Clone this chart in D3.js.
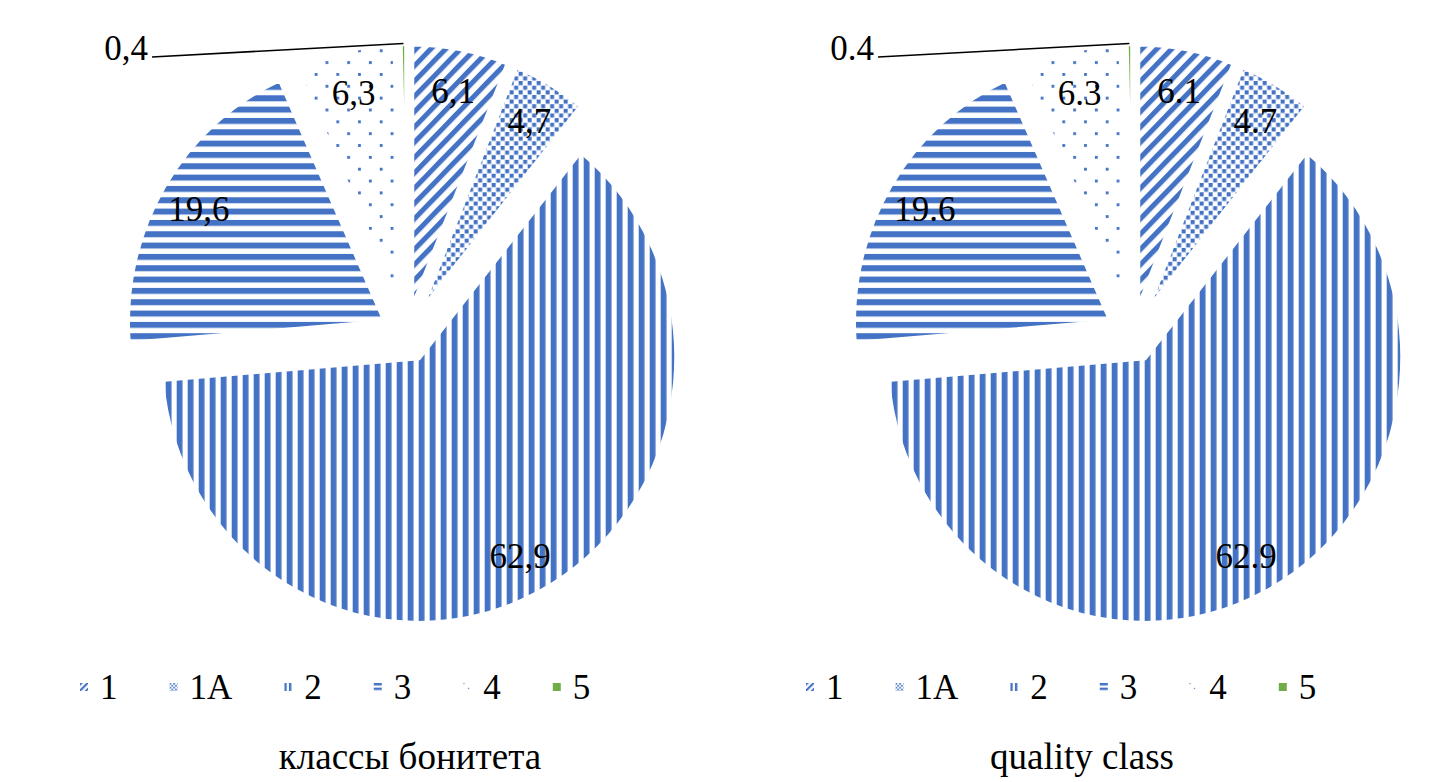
<!DOCTYPE html>
<html>
<head>
<meta charset="utf-8">
<script src="https://cdnjs.cloudflare.com/ajax/libs/d3/7.8.5/d3.min.js"></script>
<style>
  body { margin: 0; background: #fff; }
  text { font-family: "Liberation Serif", "Times New Roman", serif; fill: #000; }
</style>
</head>
<body>
<svg id="chart" width="1435" height="782"></svg>
<script>
// values
var categories = ["1", "1A", "2", "3", "4", "5"];
var shares = [6.1, 4.7, 62.9, 19.6, 6.3, 0.4];
var labelsRu = ["6,1", "4,7", "62,9", "19,6", "6,3", "0,4"];
var labelsEn = ["6.1", "4.7", "62.9", "19.6", "6.3", "0.4"];
var titles = ["классы бонитета", "quality class"];

var blue = "#4472C4", green = "#70AD47";
var radius = 258, explode = 25, yStretch = 1.03;
var pieCenters = [407, 1133], pieY = 335;
var titleX = [410, 1082], titleY = 756;
var legendX = [80, 806], legendY = 687;

var svg = d3.select("#chart");
svg.append("rect").attr("width", 1435).attr("height", 782).attr("fill", "#fff");
var defs = svg.append("defs");

// pattern fills, k = scale (legend swatches use smaller tiles)
function addPatterns(suffix, k) {
  var p;
  p = defs.append("pattern").attr("id", "pat0" + suffix)
      .attr("patternUnits", "userSpaceOnUse").attr("width", 10.5).attr("height", 10.5)
      .attr("patternTransform", "rotate(45) scale(" + k + ")");
  p.append("rect").attr("width", 5).attr("height", 10.5).attr("fill", blue);

  p = defs.append("pattern").attr("id", "pat1" + suffix)
      .attr("patternUnits", "userSpaceOnUse").attr("width", 9).attr("height", 9)
      .attr("patternTransform", "scale(" + k + ")");
  p.append("rect").attr("width", 4).attr("height", 4).attr("fill", blue);
  p.append("rect").attr("x", 4.5).attr("y", 4.5).attr("width", 4).attr("height", 4).attr("fill", blue);

  p = defs.append("pattern").attr("id", "pat2" + suffix)
      .attr("patternUnits", "userSpaceOnUse").attr("width", 11).attr("height", 11)
      .attr("patternTransform", "scale(" + k + ")");
  p.append("rect").attr("width", 5.8).attr("height", 11).attr("fill", blue);

  p = defs.append("pattern").attr("id", "pat3" + suffix)
      .attr("patternUnits", "userSpaceOnUse").attr("width", 11).attr("height", 11)
      .attr("patternTransform", "scale(" + k + ")");
  p.append("rect").attr("width", 11).attr("height", 5.8).attr("fill", blue);

  p = defs.append("pattern").attr("id", "pat4" + suffix)
      .attr("patternUnits", "userSpaceOnUse").attr("width", 21.7).attr("height", 23)
      .attr("patternTransform", "scale(" + k + ")");
  p.append("rect").attr("width", 2.8).attr("height", 2.8).attr("fill", blue);
  p.append("rect").attr("x", 10.85).attr("y", 11.5).attr("width", 2.8).attr("height", 2.8).attr("fill", blue);

  p = defs.append("pattern").attr("id", "pat5" + suffix)
      .attr("patternUnits", "userSpaceOnUse").attr("width", 10).attr("height", 10);
  p.append("rect").attr("width", 10).attr("height", 10).attr("fill", green);
}
addPatterns("", 1);
addPatterns("L", 0.42);

var pie = d3.pie().sort(null).value(d => d);
var arc = d3.arc().innerRadius(0).outerRadius(radius);
var arcs = pie(shares);

function drawPie(idx, labels) {
  var g = svg.append("g")
      .attr("transform", `translate(${pieCenters[idx]},${pieY}) scale(1,${yStretch})`);

  arcs.forEach(function(a, i) {
    var mid = (a.startAngle + a.endAngle) / 2;
    var ox = Math.sin(mid) * explode, oy = -Math.cos(mid) * explode;
    var s = g.append("g").attr("transform", `translate(${ox},${oy})`);
    s.append("path")
        .attr("d", arc(a))
        .attr("fill", `url(#pat${i})`)
        .attr("stroke", "#fff")
        .attr("stroke-width", 5);

    if (a.data >= 1) {
      var lr = radius * 0.84;
      g.append("text")
          .attr("x", ox + Math.sin(mid) * lr)
          .attr("y", oy - Math.cos(mid) * lr)
          .attr("dy", "0.35em")
          .attr("text-anchor", "middle")
          .style("font-size", "35px")
          .text(labels[i]);
    } else {
      // tiny slice: label outside with a leader line
      var ex = ox + Math.sin(mid) * radius, ey = oy - Math.cos(mid) * radius;
      g.append("line")
          .attr("x1", -radius + 3).attr("y1", -radius - 12)
          .attr("x2", ex).attr("y2", ey)
          .attr("stroke", "#000").attr("stroke-width", 1.5);
      g.append("text")
          .attr("x", -radius - 1)
          .attr("y", -radius - 21)
          .attr("dy", "0.35em")
          .attr("text-anchor", "end")
          .style("font-size", "35px")
          .text(labels[i]);
    }
  });

  // legend
  var lg = svg.append("g");
  var x = legendX[idx];
  categories.forEach(function(c, i) {
    var sw = lg.append("g").attr("transform", `translate(${x},${legendY - 4})`);
    sw.append("rect").attr("width", 8).attr("height", 8).attr("fill", `url(#pat${i}L)`);
    var t = lg.append("text")
        .attr("x", x + 20)
        .attr("y", legendY)
        .attr("dy", "0.35em")
        .style("font-size", "35px")
        .text(c);
    x = x + 20 + t.node().getComputedTextLength() + 52;
  });

  svg.append("text")
      .attr("x", titleX[idx])
      .attr("y", titleY)
      .attr("dy", "0.35em")
      .attr("text-anchor", "middle")
      .style("font-size", "37px")
      .text(titles[idx]);
}

drawPie(0, labelsRu);
drawPie(1, labelsEn);
</script>
</body>
</html>
